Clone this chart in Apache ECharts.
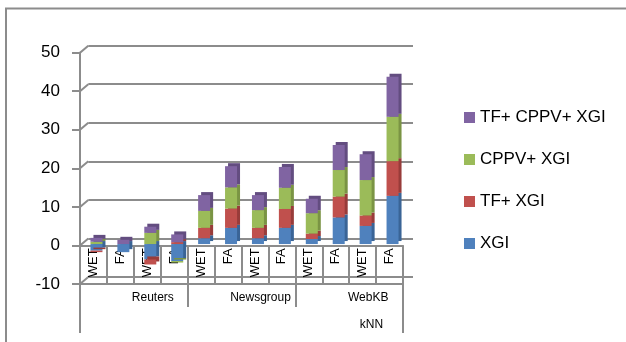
<!DOCTYPE html>
<html>
<head>
<meta charset="utf-8">
<script src="https://cdn.jsdelivr.net/npm/echarts@6/dist/echarts.min.js"></script>
<style>
  html, body { margin: 0; padding: 0; background: #fff; }
  #chart { width: 626px; height: 342px; }
</style>
</head>
<body>
<div id="chart"></div>
<script>
// data (kNN, stacked)
const categories = ['WET', 'FA', 'WET', 'FA', 'WET', 'FA', 'WET', 'FA', 'WET', 'FA', 'WET', 'FA'];
const groups = ['Reuters', 'Newsgroup', 'WebKB'];
const methods = ['kNN'];
const yTicks = [-10, 0, 10, 20, 30, 40, 50];

const xgi     = [-1.7, -2.1, -4.0, -4.4, 1.5, 4.2, 1.5, 4.2, 1.3, 6.9, 4.7, 12.5];
const tfXgi   = [-0.4, 0, -1.3, 0.5, 2.7, 5.0, 2.7, 4.9, 1.4, 5.4, 2.7, 9.0];
const cppvXgi = [0.6, 0, 2.9, -0.4, 4.4, 5.5, 4.6, 5.5, 5.3, 6.9, 9.2, 11.5];
const allXgi  = [1.0, 1.1, 1.6, 2.0, 4.1, 5.5, 3.9, 5.4, 3.75, 6.5, 6.7, 10.4];

const seriesNames = ['XGI', 'TF+ XGI', 'CPPV+ XGI', 'TF+ CPPV+ XGI'];
const seriesColors = ['#4f81bd', '#c0504d', '#9bbb59', '#8064a2'];
const sideColors = ['#3a6496', '#983c3a', '#7a9444', '#634d80'];
const seriesData = [xgi, tfXgi, cppvXgi, allXgi];

const FONT = 'Liberation Sans';
const LINE = '#8c8c8c';

const chart = echarts.init(document.getElementById('chart'));

chart.setOption({
  animation: false,
  textStyle: { fontFamily: FONT, color: '#000' },
  graphic: [{
    type: 'rect',
    shape: { x: 6, y: 8.5, width: 700, height: 400 },
    style: { fill: 'none', stroke: LINE, lineWidth: 2 },
    silent: true
  }],
  legend: {
    orient: 'vertical',
    left: 459,
    top: 104,
    itemWidth: 11,
    itemHeight: 11,
    itemGap: 25,
    icon: 'rect',
    textStyle: { fontFamily: FONT, fontSize: 17, color: '#000' },
    data: seriesNames.slice().reverse()
  },
  grid: [
    // front plane: axes and category table
    { left: 80, right: 223, top: 52.7, bottom: 58 },
    // back wall: gridlines
    { left: 88.3, right: 213, top: 45.7, bottom: 65 },
    // bars, sitting a bit into the depth
    { left: 83, right: 220, top: 51.3, bottom: 59.4 }
  ],
  xAxis: [
    {
      // sits on the zero line: 10 units above the grid bottom
      gridIndex: 0, type: 'category', data: categories, position: 'bottom', offset: -38.6,
      axisLine: { onZero: false, lineStyle: { color: LINE, width: 2 } },
      axisTick: { show: true, length: 38.6, lineStyle: { color: LINE, width: 2 } },
      axisLabel: { rotate: 90, margin: 3, fontSize: 13, color: '#000', interval: 0 }
    },
    {
      gridIndex: 0, type: 'category', data: groups, position: 'bottom',
      axisLine: { onZero: false, lineStyle: { color: LINE, width: 2 } },
      axisTick: { show: true, length: 23, lineStyle: { color: LINE, width: 2 } },
      axisLabel: { margin: 8, fontSize: 12, color: '#000', padding: [0, 0, 0, 38], interval: 0 }
    },
    {
      gridIndex: 0, type: 'category', data: methods, position: 'bottom',
      axisLine: { show: false, onZero: false },
      axisTick: { show: true, length: 49, lineStyle: { color: LINE, width: 2 } },
      axisLabel: { margin: 35, fontSize: 12, color: '#000', padding: [0, 0, 0, 260] }
    },
    { gridIndex: 1, type: 'category', data: categories, show: false },
    { gridIndex: 2, type: 'category', data: categories, show: false }
  ],
  yAxis: [
    {
      gridIndex: 0, type: 'value', min: -10, max: 50, interval: 10,
      axisLine: { show: true, lineStyle: { color: LINE, width: 2 } },
      axisTick: { show: true, length: 8, lineStyle: { color: LINE, width: 2 } },
      axisLabel: { margin: 20, fontSize: 17, color: '#000' },
      splitLine: { show: false }
    },
    {
      gridIndex: 1, type: 'value', min: -10, max: 50, interval: 10,
      axisLine: { show: false }, axisTick: { show: false }, axisLabel: { show: false },
      splitLine: { show: true, lineStyle: { color: LINE, width: 2 } }
    },
    { gridIndex: 2, type: 'value', min: -10, max: 50, interval: 10, show: false, splitLine: { show: false } }
  ],
  series: [
    // diagonal joins from the front axis to the back gridlines
    {
      type: 'custom',
      xAxisIndex: 0, yAxisIndex: 0,
      silent: true,
      data: yTicks.map(v => [0, v]),
      renderItem: (params, api) => {
        const p = api.coord([0, api.value(1)]);
        const x0 = p[0] - api.size([1, 0])[0] / 2;
        return {
          type: 'line',
          shape: { x1: x0, y1: p[1], x2: x0 + 8.3, y2: p[1] - 7 },
          style: { stroke: LINE, lineWidth: 2 }
        };
      }
    },
    ...seriesNames.map((name, i) => ({
      name,
      type: 'bar',
      stack: 'total',
      xAxisIndex: 4, yAxisIndex: 2,
      barWidth: 12,
      data: seriesData[i],
      itemStyle: {
        color: seriesColors[i],
        shadowColor: sideColors[i],
        shadowOffsetX: 3,
        shadowOffsetY: -3,
        shadowBlur: 0
      }
    }))
  ]
});
</script>
</body>
</html>
